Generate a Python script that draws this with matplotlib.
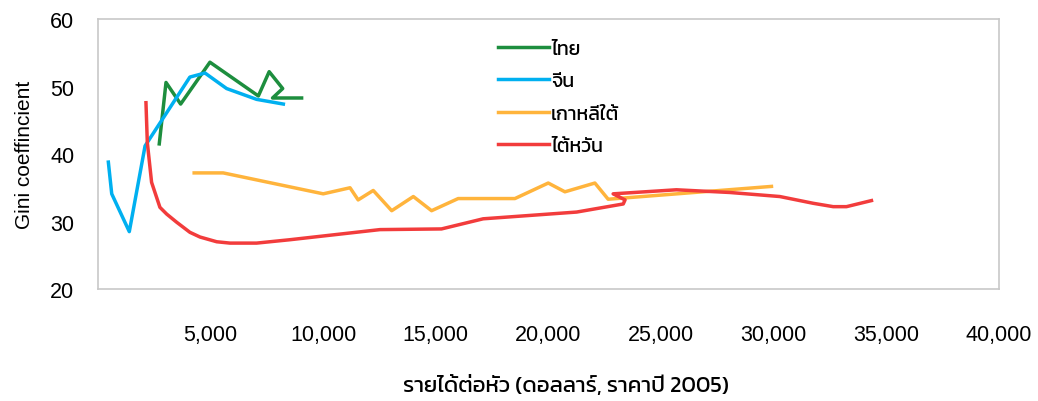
import matplotlib
matplotlib.use("Agg")
import matplotlib.pyplot as plt

# income per head (USD, 2005 prices) vs Gini
thai_x = [2720, 3020, 3670, 4970, 7120, 7600, 8200, 7750, 9040]
thai_y = [41.5, 50.6, 47.4, 53.6, 48.6, 52.2, 49.7, 48.3, 48.3]

china_x = [460, 610, 1390, 2090, 4080, 4750, 5710, 7040, 8230]
china_y = [38.8, 34.1, 28.5, 41.2, 51.4, 52.0, 49.7, 48.1, 47.4]

korea_x = [4270, 5560, 10000, 11190, 11550, 12220, 13040, 14000, 14810,
           15990, 18510, 19990, 20730, 22060, 22650, 29900]
korea_y = [37.2, 37.2, 34.1, 35.0, 33.2, 34.6, 31.6, 33.7, 31.6,
           33.4, 33.4, 35.7, 34.4, 35.7, 33.3, 35.2]

taiwan_x = [2130, 2190, 2380, 2750, 3050, 3490, 4080, 4530, 5270, 5860, 7040,
            8520, 12520, 15250, 17100, 21250, 23320, 23400, 22870, 25680,
            28050, 30270, 31750, 32640, 33230, 34340]
taiwan_y = [47.6, 41.7, 35.8, 32.1, 31.1, 29.9, 28.4, 27.7, 27.0, 26.8, 26.8,
            27.3, 28.8, 28.9, 30.4, 31.4, 32.6, 33.2, 34.1, 34.7,
            34.3, 33.7, 32.7, 32.2, 32.2, 33.1]

labels = ["ไทย", "จีน", "เกาหลีใต้", "ไต้หวัน"]
colors = ["#1D8E3E", "#00B0F0", "#FFB43C", "#F23C3C"]

x_ticks = [5000, 10000, 15000, 20000, 25000, 30000, 35000, 40000]
y_ticks = [20, 30, 40, 50, 60]

thai_font = ["Kanit", "Noto Sans Thai", "DejaVu Sans"]
latin_font = ["Liberation Sans", "DejaVu Sans"]
plt.rcParams["font.family"] = latin_font

fig = plt.figure(figsize=(10.38, 4.02), dpi=100)
ax = fig.add_axes([0.0944, 0.2786, 0.868, 0.6716])

series = [(thai_x, thai_y), (china_x, china_y), (korea_x, korea_y), (taiwan_x, taiwan_y)]
for (xs, ys), lab, col in zip(series, labels, colors):
    ax.plot(xs, ys, color=col, lw=2.5, label=lab, solid_joinstyle="round")

ax.set_xlim(0, 40000)
ax.set_ylim(20, 60)
ax.set_xticks(x_ticks)
ax.set_xticklabels([f"{v:,}" for v in x_ticks])
ax.set_yticks(y_ticks)
ax.set_yticklabels([str(v) for v in y_ticks])
ax.tick_params(length=0, labelsize=15.5)
ax.tick_params(axis="x", pad=25)
ax.tick_params(axis="y", pad=17)
for s in ax.spines.values():
    s.set_color("#C8C8C8")
    s.set_linewidth(1.2)

ax.set_ylabel("Gini coeffincient", fontsize=15, labelpad=12)
ax.set_xlabel("รายได้ต่อหัว (ดอลลาร์, ราคาปี 2005)", family=thai_font,
              fontsize=16, labelpad=21)
ax.xaxis.label.set_x(0.519)

ax.legend(loc="upper left", bbox_to_anchor=(0.425, 0.986), frameon=False,
          prop={"family": thai_font, "size": 14}, handlelength=2.6,
          handletextpad=0.1, labelspacing=0.76)

fig.savefig("out.png", dpi=100)
